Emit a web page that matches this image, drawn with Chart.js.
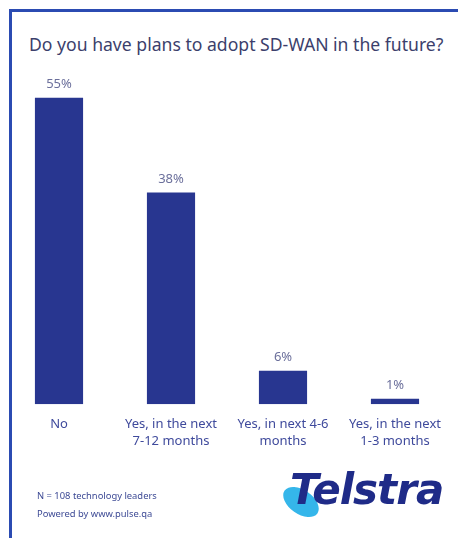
<!DOCTYPE html>
<html>
<head>
<meta charset="utf-8">
<script src="https://cdn.jsdelivr.net/npm/chart.js@4/dist/chart.umd.min.js"></script>
<style>
  html, body { margin: 0; padding: 0; background: #ffffff; }
  body { width: 458px; height: 538px; position: relative; overflow: hidden; font-family: "Noto Sans", sans-serif; }
  #frameTop { position: absolute; left: 9px; top: 9px; width: 449px; height: 3px; background: #2b4bb2; }
  #frameLeft { position: absolute; left: 9px; top: 9px; width: 3px; height: 529px; background: #2b4bb2; }
  #title { position: absolute; left: 29px; top: 32px; font-size: 17.6px; color: #3c3f6c; white-space: nowrap; line-height: 24px; }
  #c { position: absolute; left: 0; top: 0; }
  .foot { position: absolute; left: 37px; font-size: 9.4px; color: #3d4a95; white-space: nowrap; line-height: 12px; }
  #logoEllipse { position: absolute; left: 281px; top: 490px; width: 40px; height: 24px; border-radius: 50%; background: #35b6ea; transform: rotate(35deg); }
  #logo { position: absolute; left: 290px; top: 465px; font-family: "DejaVu Sans", sans-serif; font-size: 42px; font-weight: bold; font-style: italic; color: #1f2b88; letter-spacing: -1px; white-space: nowrap; line-height: 50px; }
</style>
</head>
<body>
<div id="frameTop"></div>
<div id="frameLeft"></div>
<div id="title">Do you have plans to adopt SD-WAN in the future?</div>
<canvas id="c" width="458" height="538"></canvas>
<div class="foot" style="top:490px">N = 108 technology leaders</div>
<div class="foot" style="top:508px">Powered by www.pulse.qa</div>
<div id="logoEllipse"></div>
<div id="logo">Telstra</div>
<script>
const categories = [
  ["No"],
  ["Yes, in the next", "7-12 months"],
  ["Yes, in next 4-6", "months"],
  ["Yes, in the next", "1-3 months"]
];
const values = [55, 38, 6, 1];
const valueLabels = ["55%", "38%", "6%", "1%"];

const barLabelPlugin = {
  id: 'barLabels',
  afterDatasetsDraw(chart) {
    const ctx = chart.ctx;
    const meta = chart.getDatasetMeta(0);
    ctx.save();
    ctx.font = '13px "Noto Sans", sans-serif';
    ctx.fillStyle = '#6b6f9b';
    ctx.textAlign = 'center';
    ctx.textBaseline = 'bottom';
    meta.data.forEach((bar, i) => {
      ctx.fillText(valueLabels[i], bar.x, bar.y - 7);
    });
    ctx.restore();
  }
};

new Chart(document.getElementById('c'), {
  type: 'bar',
  data: {
    labels: categories,
    datasets: [{
      data: values,
      backgroundColor: '#283690',
      borderWidth: 0,
      barPercentage: 0.43,
      categoryPercentage: 1.0
    }]
  },
  options: {
    responsive: false,
    animation: false,
    devicePixelRatio: 1,
    layout: { padding: { left: 3, right: 7, top: 70, bottom: 76 } },
    plugins: { legend: { display: false }, tooltip: { enabled: false }, title: { display: false } },
    scales: {
      y: { display: false, min: 0, max: 60 },
      x: {
        grid: { display: false, drawTicks: false },
        border: { display: false },
        ticks: {
          color: '#3f4a9c',
          font: { family: '"Noto Sans", sans-serif', size: 13, lineHeight: 1.3 },
          padding: 12,
          maxRotation: 0,
          autoSkip: false
        }
      }
    }
  },
  plugins: [barLabelPlugin]
});
</script>
</body>
</html>
